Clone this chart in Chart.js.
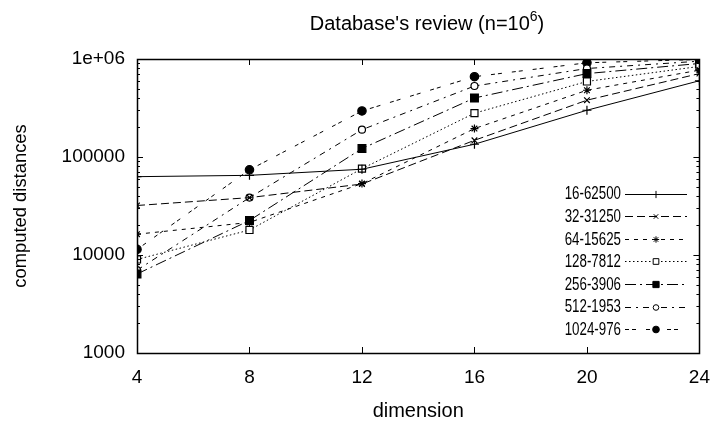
<!DOCTYPE html>
<html>
<head>
<meta charset="utf-8">
<script src="https://cdn.jsdelivr.net/npm/chart.js@4/dist/chart.umd.min.js"></script>
<style>
html,body{margin:0;padding:0;background:#fff;}
canvas{display:block;}
</style>
</head>
<body>
<canvas id="c" width="723" height="426"></canvas>
<script>
// ---- data ----
const dimensions = [4, 8, 12, 16, 20, 24];
const seriesNames = ["16-62500", "32-31250", "64-15625", "128-7812", "256-3906", "512-1953", "1024-976"];
const s16_62500 = [63000, 65000, 75000, 135000, 300000, 600000];
const s32_31250 = [32000, 38500, 53000, 148000, 380000, 710000];
const s64_15625 = [16300, 21500, 53500, 195000, 480000, 770000];
const s128_7812 = [9000, 18000, 76000, 280000, 590000, 840000];
const s256_3906 = [6400, 22500, 122000, 400000, 710000, 900000];
const s512_1953 = [7000, 38500, 190000, 530000, 800000, 950000];
const s1024_976 = [11400, 74000, 295000, 660000, 915000, 990000];
const yTickValues = [1000, 10000, 100000, 1000000];
const xTickValues = [4, 8, 12, 16, 20, 24];

const FONT = "'Liberation Sans', Arial, Helvetica, sans-serif";

const styles = [
  {dash: [], point: 'cross', r: 4.5, fill: false},
  {dash: [8, 4], point: 'crossRot', r: 4, fill: false},
  {dash: [4, 5], point: 'star', r: 4, fill: false},
  {dash: [1.5, 2.5], point: 'rect', r: 5, fill: false},
  {dash: [11, 4, 2, 4], point: 'rect', r: 5.5, fill: true},
  {dash: [6, 5, 2, 5], point: 'circle', r: 3.5, fill: false},
  {dash: [4, 3, 4, 10], point: 'circle', r: 4.2, fill: true}
];
const allSeries = [s16_62500, s32_31250, s64_15625, s128_7812, s256_3906, s512_1953, s1024_976];

const datasets = allSeries.map((vals, i) => ({
  label: seriesNames[i],
  data: vals.map((v, j) => ({x: dimensions[j], y: v})),
  borderColor: '#000',
  borderWidth: 1,
  borderDash: styles[i].dash,
  pointStyle: styles[i].point,
  pointRadius: styles[i].r,
  pointBorderWidth: 1.2,
  pointBorderColor: '#000',
  pointBackgroundColor: styles[i].fill ? '#000' : '#fff',
  fill: false,
  tension: 0
}));

const framePlugin = {
  id: 'frame',
  afterDatasetsDraw(chart) {
    const ctx = chart.ctx;
    const a = chart.chartArea;
    const xs = chart.scales.x, ys = chart.scales.y;
    ctx.save();
    ctx.strokeStyle = '#000';
    ctx.lineWidth = 1;
    ctx.setLineDash([]);
    ctx.beginPath();
    xTickValues.forEach(v => {
      const px = Math.round(xs.getPixelForValue(v)) + 0.5;
      ctx.moveTo(px, a.bottom); ctx.lineTo(px, a.bottom - 6);
      ctx.moveTo(px, a.top); ctx.lineTo(px, a.top + 6);
    });
    for (let d = 1000; d <= 1000000; d *= 10) {
      for (let m = 1; m <= 9; m++) {
        const v = d * m;
        if (v > 1000000) break;
        const len = (m === 1) ? 6 : 3;
        const py = Math.round(ys.getPixelForValue(v)) + 0.5;
        ctx.moveTo(a.left, py); ctx.lineTo(a.left + len, py);
        ctx.moveTo(a.right, py); ctx.lineTo(a.right - len, py);
      }
    }
    ctx.stroke();
    ctx.lineWidth = 1.5;
    ctx.strokeRect(Math.round(a.left) + 0.5, Math.round(a.top) + 0.5, Math.round(a.right - a.left), Math.round(a.bottom - a.top));

    // legend
    const lx = 621, ly0 = 193.5, step = 22.6, sx = 0.74;
    ctx.fillStyle = '#000';
    chart.data.datasets.forEach((ds, i) => {
      const y = ly0 + i * step;
      ctx.save();
      ctx.font = '18px ' + FONT;
      ctx.textAlign = 'right';
      ctx.textBaseline = 'middle';
      ctx.translate(lx, y);
      ctx.scale(sx, 1);
      ctx.fillText(ds.label, 0, 1);
      ctx.restore();
      ctx.save();
      ctx.lineWidth = 1;
      ctx.setLineDash(ds.borderDash);
      ctx.beginPath();
      ctx.moveTo(625, Math.round(y) + 0.5);
      ctx.lineTo(687, Math.round(y) + 0.5);
      ctx.stroke();
      ctx.restore();
      ctx.save();
      ctx.setLineDash([]);
      ctx.lineWidth = 1;
      ctx.strokeStyle = '#000';
      ctx.fillStyle = ds.pointBackgroundColor;
      Chart.helpers.drawPoint(ctx, {pointStyle: ds.pointStyle, radius: ds.pointRadius * 0.8, borderWidth: 1, rotation: 0}, 656, Math.round(y) + 0.5);
      ctx.restore();
    });

    // title with superscript
    ctx.fillStyle = '#000';
    ctx.textAlign = 'left';
    ctx.textBaseline = 'alphabetic';
    const big = '20px ' + FONT, small = '14px ' + FONT;
    const t1 = "Database's review (n=10", t2 = "6", t3 = ")";
    ctx.font = big; const w1 = ctx.measureText(t1).width;
    ctx.font = small; const w2 = ctx.measureText(t2).width;
    ctx.font = big; const w3 = ctx.measureText(t3).width;
    const cx = 427;
    const x0 = cx - (w1 + w2 + w3) / 2;
    const base = 30;
    ctx.font = big; ctx.fillText(t1, x0, base);
    ctx.font = small; ctx.fillText(t2, x0 + w1, base - 9);
    ctx.font = big; ctx.fillText(t3, x0 + w1 + w2, base);
    ctx.restore();
  }
};

new Chart(document.getElementById('c'), {
  type: 'line',
  data: {datasets},
  options: {
    responsive: false,
    animation: false,
    devicePixelRatio: 1,
    layout: {padding: {top: 59, right: 13, left: 0, bottom: 0}},
    plugins: {legend: {display: false}, title: {display: false}, tooltip: {enabled: false}},
    scales: {
      x: {
        type: 'linear',
        min: 4, max: 24,
        afterBuildTicks(scale) { scale.ticks = xTickValues.map(v => ({value: v})); },
        afterFit(scale) { scale.height = 73; },
        grid: {display: false, drawTicks: false},
        border: {display: false},
        ticks: {color: '#000', font: {family: FONT, size: 19}, padding: 13, maxRotation: 0},
        title: {display: true, text: 'dimension', color: '#000', font: {family: FONT, size: 20}, padding: {top: 0, bottom: 3}}
      },
      y: {
        type: 'logarithmic',
        min: 1000, max: 1000000,
        afterBuildTicks(scale) { scale.ticks = yTickValues.map(v => ({value: v})); },
        afterFit(scale) { scale.width = 137; },
        grid: {display: false, drawTicks: false},
        border: {display: false},
        ticks: {color: '#000', font: {family: FONT, size: 19}, padding: 12,
          callback: v => v === 1000000 ? '1e+06' : String(v)},
        title: {display: true, text: 'computed distances', color: '#000', font: {family: FONT, size: 18.4}, padding: {top: 10, bottom: 0}}
      }
    }
  },
  plugins: [framePlugin]
});
</script>
</body>
</html>
